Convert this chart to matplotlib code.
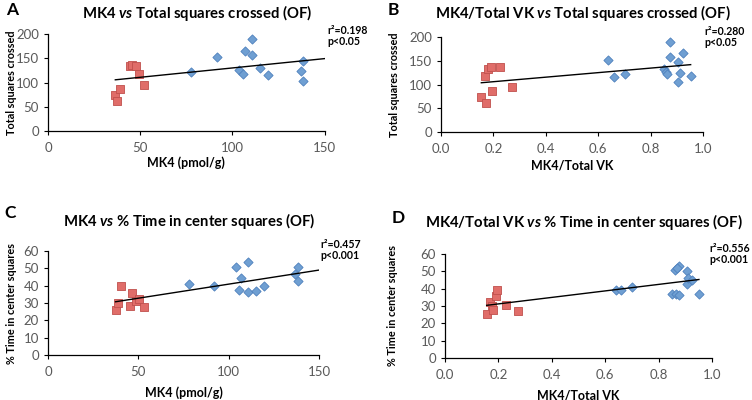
import numpy as np
import matplotlib
matplotlib.use("Agg")
import matplotlib.pyplot as plt

plt.rcParams['font.family'] = ['Lato', 'DejaVu Sans']
plt.rcParams['mathtext.fontset'] = 'custom'
plt.rcParams['mathtext.it'] = 'Lato:italic:bold'
plt.rcParams['mathtext.rm'] = 'Lato:bold'

# panel A: MK4 vs total squares crossed
a_red_x = [36.5, 37.5, 39, 44.5, 45.5, 47.6, 49.5, 52]
a_red_y = [74, 62, 87, 135, 137, 134, 118, 94]
a_blue_x = [77.3, 91.5, 103.6, 105.5, 106.7, 110.4, 110.7, 115, 119.5, 137, 138.4, 138.4]
a_blue_y = [122, 152, 126, 117.5, 165, 157, 189, 130.6, 115, 124, 145, 103]

# panel B: MK4/Total VK vs total squares crossed
b_red_x = [0.154, 0.172, 0.169, 0.178, 0.191, 0.195, 0.227, 0.27]
b_red_y = [74.7, 61, 118, 133, 137.5, 86.8, 136, 94]
b_blue_x = [0.639, 0.661, 0.703, 0.851, 0.86, 0.864, 0.876, 0.876, 0.906, 0.912, 0.906, 0.925, 0.953]
b_blue_y = [152, 116, 123, 131.7, 125.3, 122.4, 190, 157, 148, 124.6, 104.6, 166, 117.4]

# panel C: MK4 vs % time in center
c_red_x = [37.4, 38.7, 40.2, 45.5, 46.4, 48.6, 50.6, 53]
c_red_y = [25.8, 30.2, 39.8, 28.3, 35.9, 31, 32.5, 27.5]
c_blue_x = [78, 91.7, 103.9, 105.7, 107, 110.5, 110.8, 115.2, 119.5, 136.7, 138.2, 138.2]
c_blue_y = [40.9, 39.6, 51, 37.3, 44.7, 53.5, 36.3, 37.1, 39.9, 46.7, 50.7, 42.8]

# panel D: MK4/Total VK vs % time in center
d_red_x = [0.156, 0.17, 0.175, 0.178, 0.191, 0.196, 0.227, 0.272]
d_red_y = [25.5, 32.2, 30.0, 27.8, 35.8, 39.1, 30.7, 27.2]
d_blue_x = [0.64, 0.661, 0.702, 0.849, 0.86, 0.867, 0.875, 0.875, 0.868, 0.905, 0.905, 0.911, 0.924, 0.951]
d_blue_y = [39.3, 39.3, 40.8, 37, 50.8, 36.8, 36.4, 53, 52, 50.2, 42.7, 46, 45, 37]

panels = [
    dict(letter="A", title="MK4 $vs$ Total squares crossed (OF)",
         rx=a_red_x, ry=a_red_y, bx=a_blue_x, by=a_blue_y,
         xlim=(0, 150), xticks=[0, 50, 100, 150], xfmt="{:.0f}",
         ylim=(0, 200), yticks=[0, 50, 100, 150, 200],
         xlabel="MK4 (pmol/g)", ylabel="Total squares crossed",
         stats="r²=0.198\np<0.05", line_end=150,
         pos=[0.0638, 0.6725, 0.368, 0.2425]),
    dict(letter="B", title="MK4/Total VK $vs$ Total squares crossed (OF)",
         rx=b_red_x, ry=b_red_y, bx=b_blue_x, by=b_blue_y,
         xlim=(0, 1.0), xticks=[0, 0.2, 0.4, 0.6, 0.8, 1.0], xfmt="{:.1f}",
         ylim=(0, 200), yticks=[0, 50, 100, 150, 200],
         xlabel="MK4/Total VK", ylabel="Total squares crossed",
         stats="r²=0.280\np<0.05", line_end=None,
         pos=[0.5864, 0.67, 0.3484, 0.2375]),
    dict(letter="C", title="MK4 $vs$ % Time in center squares (OF)",
         rx=c_red_x, ry=c_red_y, bx=c_blue_x, by=c_blue_y,
         xlim=(0, 150), xticks=[0, 50, 100, 150], xfmt="{:.0f}",
         ylim=(0, 60), yticks=[0, 10, 20, 30, 40, 50, 60],
         xlabel="MK4 (pmol/g)", ylabel="% Time in center squares",
         stats="r²=0.457\np<0.001", line_end=150,
         pos=[0.0638, 0.1125, 0.3604, 0.26]),
    dict(letter="D", title="MK4/Total VK $vs$ % Time in center squares (OF)",
         rx=d_red_x, ry=d_red_y, bx=d_blue_x, by=d_blue_y,
         xlim=(0, 1.0), xticks=[0, 0.2, 0.4, 0.6, 0.8, 1.0], xfmt="{:.1f}",
         ylim=(0, 60), yticks=[0, 10, 20, 30, 40, 50, 60],
         xlabel="MK4/Total VK", ylabel="% Time in center squares",
         stats="r²=0.556\np<0.001", line_end=None,
         pos=[0.5918, 0.105, 0.355, 0.26]),
]

# text positions in pixels (x, y from top)
letter_xy = [(12, 10), (393, 10), (10, 213), (398, 218)]
title_xy = [(197, 13), (583, 13), (189, 221), (584, 222)]
stats_xy = [(327, 25), (704, 26), (320, 239), (709, 243)]
xlabel_y = [163, 166, 393, 395]
ylabel_x = [12, 394, 12, 392]

W, H = 752, 400
fig = plt.figure(figsize=(W / 100, H / 100), dpi=100)

for i, p in enumerate(panels):
    ax = fig.add_axes(p["pos"])
    ax.scatter(p["bx"], p["by"], marker="D", s=22, color="#6f9fd2",
               edgecolor="#4f81bd", linewidth=0.6, zorder=3)
    ax.scatter(p["rx"], p["ry"], marker="s", s=38, color="#e06d69",
               edgecolor="#c0504d", linewidth=0.6, zorder=3)
    allx = np.array(p["rx"] + p["bx"])
    ally = np.array(p["ry"] + p["by"])
    k, b = np.polyfit(allx, ally, 1)
    x0 = allx.min()
    x1 = p["line_end"] if p["line_end"] else allx.max()
    ax.plot([x0, x1], [k * x0 + b, k * x1 + b], color="black", lw=1.0, zorder=4)

    ax.set_xlim(*p["xlim"])
    ax.set_ylim(*p["ylim"])
    ax.set_xticks(p["xticks"])
    ax.set_xticklabels([p["xfmt"].format(t) for t in p["xticks"]])
    ax.set_yticks(p["yticks"])
    ax.tick_params(labelsize=9.5, colors="black", labelcolor="#595959",
                   length=3, width=0.8, direction="out")
    ax.tick_params(axis="x", pad=5)
    for s in ["top", "right"]:
        ax.spines[s].set_visible(False)
    for s in ["left", "bottom"]:
        ax.spines[s].set_linewidth(0.9)
    ax.set_xlabel(p["xlabel"], fontsize=9, fontweight="bold")
    ax.set_ylabel(p["ylabel"], fontsize=7.8, fontweight="bold")
    ax.yaxis.set_label_coords(ylabel_x[i] / W, p["pos"][1] + p["pos"][3] / 2,
                              transform=fig.transFigure)
    ax.xaxis.set_label_coords(p["pos"][0] + p["pos"][2] / 2, 1 - xlabel_y[i] / H,
                              transform=fig.transFigure)
    ax.xaxis.label.set_va("center")
    ax.yaxis.label.set_va("center")

    lx, ly = letter_xy[i]
    fig.text(lx / W, 1 - ly / H, p["letter"], fontsize=12.5, fontweight="bold",
             ha="center", va="center")
    tx, ty = title_xy[i]
    fig.text(tx / W, 1 - ty / H, p["title"], fontsize=10.7, fontweight="bold",
             ha="center", va="center")
    sx, sy = stats_xy[i]
    fig.text(sx / W, 1 - sy / H, p["stats"], fontsize=7.6, fontweight="bold",
             ha="left", va="top", linespacing=1.05)

fig.savefig("out.png", dpi=100)
